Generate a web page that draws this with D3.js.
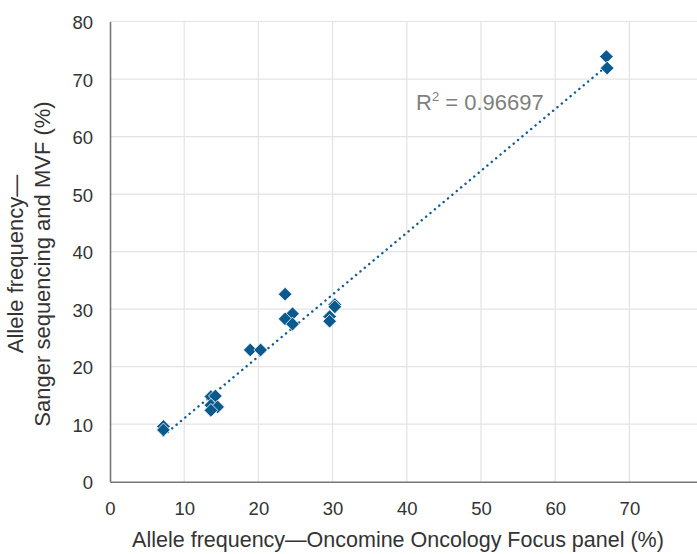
<!DOCTYPE html>
<html>
<head>
<meta charset="utf-8">
<script src="https://cdn.jsdelivr.net/npm/d3@7"></script>
<style>
  body { margin: 0; background: #fff; }
  svg text { font-family: "Liberation Sans", Arial, sans-serif; fill: #333; }
</style>
</head>
<body>
<svg id="chart" width="697" height="554"></svg>
<script>
// values
var xValues = [7.2, 7.2, 13.6, 14.2, 13.6, 14.5, 13.6, 18.9, 20.3, 23.6, 24.6, 23.6, 24.6, 29.6, 29.6, 30.3, 30.3, 66.9, 67.0];
var yValues = [9.6, 9.0, 14.8, 14.9, 13.3, 13.0, 12.4, 22.9, 22.9, 32.6, 29.2, 28.3, 27.4, 28.7, 27.9, 30.8, 30.4, 73.9, 71.9];
var xTicks = [0, 10, 20, 30, 40, 50, 60, 70];
var yTicks = [0, 10, 20, 30, 40, 50, 60, 70, 80];
var r2Label = "0.96697";

var svg = d3.select("#chart");

// plot area
var x = d3.scaleLinear().domain([0, 80]).range([110, 703.6]);
var y = d3.scaleLinear().domain([0, 80]).range([481.7, 21.5]);

// grid
svg.append("g").selectAll("line").data(yTicks.slice(1)).enter().append("line")
    .attr("x1", x(0)).attr("x2", 697)
    .attr("y1", function (d) { return y(d); }).attr("y2", function (d) { return y(d); })
    .attr("stroke", "#e3e3e3").attr("stroke-width", 1.2);
svg.append("g").selectAll("line").data(xTicks.slice(1)).enter().append("line")
    .attr("x1", function (d) { return x(d); }).attr("x2", function (d) { return x(d); })
    .attr("y1", y(0)).attr("y2", y(80))
    .attr("stroke", "#e3e3e3").attr("stroke-width", 1.2);

// axes
var xAxis = svg.append("g").attr("transform", "translate(0," + y(0) + ")")
    .call(d3.axisBottom(x).tickValues(xTicks).tickSize(0).tickPadding(20));
var yAxis = svg.append("g").attr("transform", "translate(" + x(0) + ",0)")
    .call(d3.axisLeft(y).tickValues(yTicks).tickSize(0).tickPadding(17));
xAxis.select(".domain").attr("stroke", "#777").attr("stroke-width", 1.6);
yAxis.select(".domain").attr("stroke", "#777").attr("stroke-width", 1.6);
svg.selectAll(".tick text").style("font-size", "18.5px").attr("fill", "#3a3a3a")
    .style("font-family", "'Liberation Sans', Arial, sans-serif");
yAxis.selectAll(".tick text").attr("dy", "0.38em");

// trendline (least squares from the points)
var n = xValues.length;
var mx = d3.mean(xValues), my = d3.mean(yValues);
var sxy = 0, sxx = 0;
for (var i = 0; i < n; i++) {
    sxy += (xValues[i] - mx) * (yValues[i] - my);
    sxx += (xValues[i] - mx) * (xValues[i] - mx);
}
var slope = sxy / sxx, icept = my - slope * mx;
var x0 = d3.min(xValues), x1 = d3.max(xValues);
svg.append("line")
    .attr("x1", x(x0)).attr("y1", y(slope * x0 + icept))
    .attr("x2", x(x1)).attr("y2", y(slope * x1 + icept))
    .attr("stroke", "#125b8e").attr("stroke-width", 2.4)
    .attr("stroke-dasharray", "0.1 5.6").attr("stroke-linecap", "round");

// points
var diamond = d3.symbol().type(d3.symbolDiamond2).size(120);
svg.append("g").selectAll("path").data(d3.range(n)).enter().append("path")
    .attr("d", diamond)
    .attr("transform", function (i) { return "translate(" + x(xValues[i]) + "," + y(yValues[i]) + ")"; })
    .attr("fill", "#0b5a8e").attr("stroke", "#fff").attr("stroke-width", 0.8);

// R² label
var r2 = svg.append("text").attr("x", 416).attr("y", 110)
    .style("font-size", "22px").style("fill", "#7f7f7f");
r2.append("tspan").text("R");
r2.append("tspan").attr("dy", -9).style("font-size", "13px").text("2");
r2.append("tspan").attr("dy", 9).text(" = " + r2Label);

// axis titles
svg.append("text").attr("x", 398).attr("y", 547).attr("text-anchor", "middle")
    .style("font-size", "21.5px").text("Allele frequency\u2014Oncomine Oncology Focus panel (%)");
var yt = svg.append("text").attr("transform", "translate(0,264) rotate(-90)")
    .attr("text-anchor", "middle").style("font-size", "22px");
yt.append("tspan").attr("x", 0).attr("y", 23).text("Allele frequency\u2014");
yt.append("tspan").attr("x", 0).attr("y", 50).text("Sanger sequencing and MVF (%)");
</script>
</body>
</html>
